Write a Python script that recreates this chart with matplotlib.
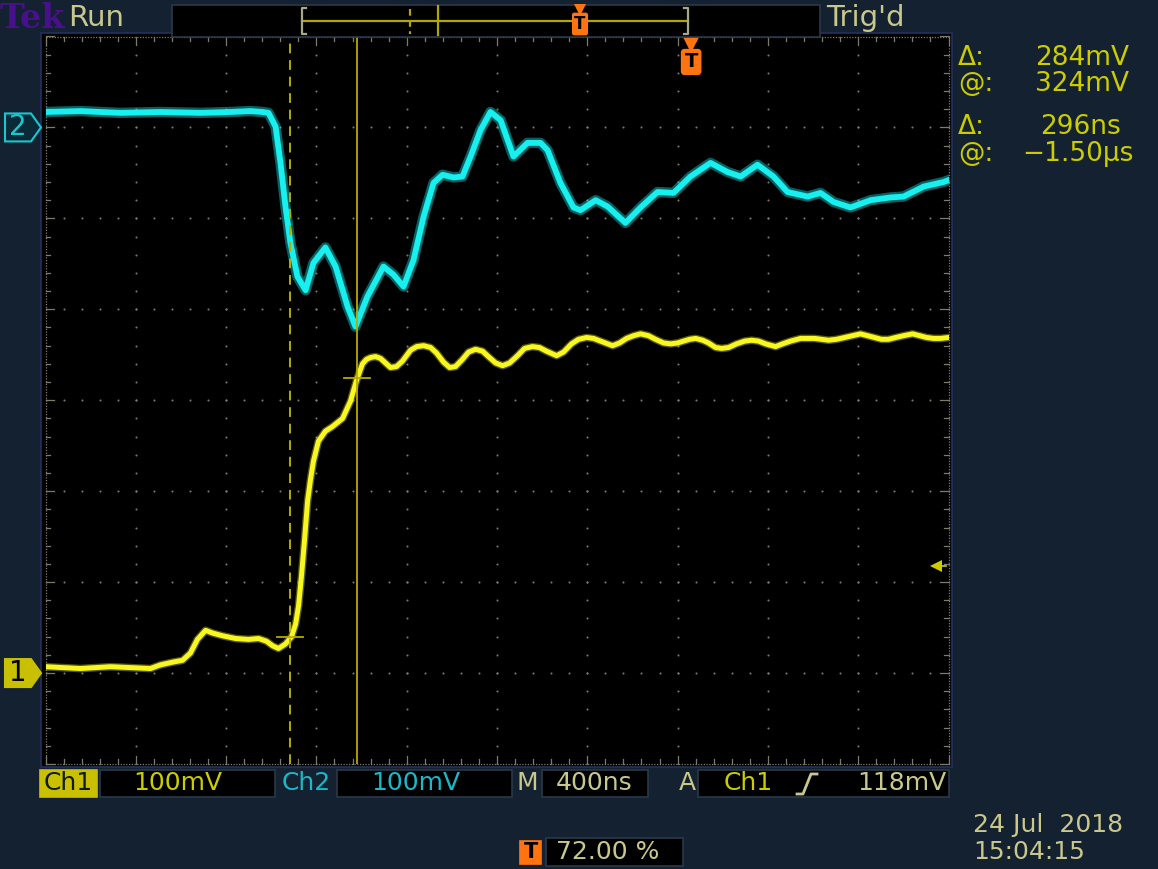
import matplotlib
matplotlib.use('Agg')
import matplotlib.pyplot as plt
import numpy as np
from matplotlib.patches import Rectangle, Polygon
from matplotlib.lines import Line2D
from matplotlib.transforms import blended_transform_factory

W, H = 1158, 869

# scope settings
ch1_scale = 100.0    # mV/div
ch2_scale = 100.0    # mV/div
ch1_offset = -3.0    # div
ch2_offset = 3.0     # div
time_div = 0.4       # us/div
trig_pos = 0.72
trig_level = 118.0   # mV
cursor_t = [-1.796, -1.50]   # us
cursor_v = [40.0, 324.0]     # mV (ch1)

# channel 1 (yellow), time in us, voltage in mV
ch1_t = [-2.880, -2.725, -2.592, -2.415, -2.371, -2.317, -2.273, -2.238, -2.207, -2.171,
         -2.140, -2.096, -2.038, -1.981, -1.936, -1.901, -1.874, -1.848, -1.817, -1.790,
         -1.772, -1.759, -1.746, -1.733, -1.719, -1.706, -1.693, -1.671, -1.640, -1.609,
         -1.564, -1.529, -1.502, -1.476, -1.458, -1.440, -1.418, -1.396, -1.374, -1.352,
         -1.325, -1.299, -1.263, -1.236, -1.205, -1.174, -1.148, -1.117, -1.090, -1.064,
         -1.033, -1.006, -0.975, -0.944, -0.918, -0.886, -0.855, -0.824, -0.789, -0.758,
         -0.723, -0.692, -0.661, -0.616, -0.585, -0.550, -0.519, -0.483, -0.452, -0.421,
         -0.368, -0.337, -0.306, -0.275, -0.244, -0.209, -0.178, -0.142, -0.111, -0.080,
         -0.054, -0.027, 0.000, 0.031, 0.057, 0.088, 0.115, 0.146, 0.181, 0.217,
         0.248, 0.279, 0.310, 0.354, 0.385, 0.420, 0.465, 0.496, 0.527, 0.558,
         0.589, 0.624, 0.660, 0.695, 0.730, 0.761, 0.792, 0.823, 0.854, 0.886,
         0.921, 0.961, 0.992, 1.023, 1.054, 1.085, 1.120]
ch1_mv = [7, 5, 7, 5, 9, 12, 14, 22, 37, 47,
          44, 41, 38, 37, 38, 35, 30, 27, 32, 40,
          54, 74, 107, 145, 189, 213, 233, 255, 266, 271,
          280, 299, 322, 340, 345, 347, 348, 346, 341, 336,
          337, 343, 355, 359, 360, 358, 352, 342, 336, 337,
          345, 353, 356, 354, 348, 341, 338, 341, 349, 357,
          359, 358, 354, 349, 353, 362, 367, 369, 368, 365,
          360, 363, 368, 371, 373, 371, 367, 363, 362, 363,
          365, 367, 368, 366, 363, 358, 357, 358, 362, 365,
          366, 365, 362, 359, 362, 365, 368, 368, 368, 367,
          366, 367, 369, 371, 373, 371, 369, 367, 367, 369,
          371, 373, 371, 369, 368, 368, 369]

# channel 2 (cyan)
ch2_t = [-2.880, -2.725, -2.548, -2.371, -2.193, -2.060, -1.972, -1.919, -1.892, -1.861,
         -1.839, -1.817, -1.795, -1.764, -1.728, -1.693, -1.640, -1.595, -1.542, -1.507,
         -1.454, -1.383, -1.338, -1.294, -1.250, -1.205, -1.161, -1.121, -1.073, -1.033,
         -0.997, -0.953, -0.909, -0.864, -0.807, -0.745, -0.687, -0.656, -0.599, -0.541,
         -0.510, -0.443, -0.390, -0.311, -0.244, -0.169, -0.098, -0.023, 0.066, 0.141,
         0.199, 0.274, 0.345, 0.407, 0.496, 0.553, 0.611, 0.686, 0.775, 0.863,
         0.921, 1.010, 1.098, 1.120]
ch2_mv = [17, 18, 16, 17, 16, 17, 18, 17, 16, 1,
          -39, -87, -127, -164, -179, -149, -132, -153, -197, -219,
          -186, -153, -162, -175, -146, -98, -61, -52, -55, -54,
          -32, -3, 17, 8, -32, -17, -17, -25, -61, -88,
          -91, -80, -87, -105, -88, -71, -72, -54, -39, -49,
          -54, -41, -54, -71, -76, -72, -82, -88, -80, -77,
          -76, -65, -60, -58]

BG = '#142131'
KHAKI = '#c8c88c'
YEL = '#cccc00'
CYAN_TXT = '#1ab8c8'
ORANGE = '#ff7410'
CUR = '#b8aa00'
GRID = '#7c7c6c'


def ftext(x, y, s, color, size=18, ha='left', **kw):
    fig.text(x / W, 1 - y / H, s, color=color, fontsize=size, ha=ha, va='center', **kw)


def fbox(x0, y0, x1, y1, face, edge=None, z=1):
    fig.patches.append(Rectangle((x0 / W, 1 - y1 / H), (x1 - x0) / W, (y1 - y0) / H,
                                 transform=fig.transFigure, facecolor=face,
                                 edgecolor=edge or face, lw=1.2, zorder=z))


def fline(xs, ys, color, lw=1.5, **kw):
    fig.lines.append(Line2D([x / W for x in xs], [1 - y / H for y in ys],
                            transform=fig.transFigure, color=color, lw=lw, **kw))


fig = plt.figure(figsize=(W / 100, H / 100), dpi=100, facecolor=BG)

# graticule area
gl, gr, gt, gb = 45.5, 948.5, 36.5, 764.0
fbox(41, 33, 952, 767, 'black', edge='#26305a', z=-2)
ax = fig.add_axes([gl / W, 1 - gb / H, (gr - gl) / W, (gb - gt) / H])
ax.axis('off')
t0 = -trig_pos * 10 * time_div
t1 = t0 + 10 * time_div
ax.set_xlim(t0, t1)
ax.set_ylim(-4, 4)

# dotted grid
ydots = np.arange(-4, 4.001, 0.2)
xdots = t0 + np.arange(0, 51) * time_div / 5
for k in range(1, 10):
    ax.scatter(np.full(ydots.size, t0 + k * time_div), ydots, s=2.2, color=GRID, lw=0, zorder=1)
for j in range(-3, 4):
    ax.scatter(xdots, np.full(xdots.size, j), s=2.2, color=GRID, lw=0, zorder=1)

# border with ticks
bw = dict(color=GRID, lw=0.9, ls=(0, (1, 1.2)), clip_on=False, zorder=2)
ax.plot([t0, t1], [4, 4], **bw)
ax.plot([t0, t1], [-4, -4], **bw)
ax.plot([t0, t0], [-4, 4], **bw)
ax.plot([t1, t1], [-4, 4], **bw)
for i, xx in enumerate(xdots):
    ln = 0.09 if i % 5 == 0 else 0.05
    ax.plot([xx, xx], [4, 4 - ln], color=GRID, lw=0.9, clip_on=False, zorder=2)
    ax.plot([xx, xx], [-4, -4 + ln], color=GRID, lw=0.9, clip_on=False, zorder=2)
for i, yy in enumerate(ydots):
    ln = 0.09 if i % 5 == 0 else 0.05
    ax.plot([t0, t0 + ln * time_div], [yy, yy], color=GRID, lw=0.9, clip_on=False, zorder=2)
    ax.plot([t1, t1 - ln * time_div], [yy, yy], color=GRID, lw=0.9, clip_on=False, zorder=2)

# traces
y1 = np.array(ch1_mv) / ch1_scale + ch1_offset
y2 = np.array(ch2_mv) / ch2_scale + ch2_offset
ax.plot(ch2_t, y2, color='#18f0f0', lw=7.5, alpha=0.4, zorder=3, solid_joinstyle='round')
ax.plot(ch2_t, y2, color='#18f0f0', lw=4.2, zorder=4, solid_joinstyle='round')
ax.plot(ch1_t, y1, color='#f8f820', lw=5.5, alpha=0.35, zorder=3, solid_joinstyle='round')
ax.plot(ch1_t, y1, color='#f8f820', lw=3.6, zorder=5, solid_joinstyle='round')

# cursors
ax.axvline(cursor_t[0], color=CUR, lw=1.4, ls=(0, (5, 3.5)), zorder=6)
ax.axvline(cursor_t[1], color=CUR, lw=1.3, zorder=6)
for ct, cv in zip(cursor_t, cursor_v):
    cy = cv / ch1_scale + ch1_offset
    ax.plot([ct - 0.058, ct + 0.058], [cy, cy], color=CUR, lw=1.3, zorder=6)

# trigger level arrow
ty = trig_level / ch1_scale + ch1_offset
ax.plot([t1 - 0.05, t1 - 0.012], [ty, ty], color=YEL, lw=1.2, zorder=6)
ax.plot(t1 - 0.055, ty, marker='<', color=YEL, ms=8, mew=0, zorder=6)

# trigger position marker
bt = blended_transform_factory(ax.transData, ax.transAxes)
ax.plot(0 - 0.02, 0.988, marker='v', color=ORANGE, ms=11, mew=0, transform=bt, clip_on=False, zorder=7)
ax.text(0 - 0.02, 0.965, 'T', transform=bt, color='black', fontsize=14, fontweight='bold',
        ha='center', va='center', zorder=7,
        bbox=dict(boxstyle='round,pad=0.15', fc=ORANGE, ec=ORANGE))

# channel ground markers on the left
bl = blended_transform_factory(fig.transFigure, ax.transData)
hh = 14 / 91.0
for off, face, edge, txtc, lab in [(ch2_offset, '#0b2a38', '#18c8d0', '#18c8d0', '2'),
                                   (ch1_offset, '#c8c000', '#c8c000', 'black', '1')]:
    pts = [(5 / W, off - hh), (31 / W, off - hh), (41 / W, off), (31 / W, off + hh), (5 / W, off + hh)]
    ax.add_patch(Polygon(pts, closed=True, transform=bl, facecolor=face, edgecolor=edge,
                         lw=1.5, clip_on=False, zorder=8))
    ax.text(18 / W, off, lab, transform=bl, color=txtc, fontsize=20, ha='center', va='center',
            clip_on=False, zorder=9)

# header
ftext(0, 18, 'Tek', '#48108c', size=24, family='DejaVu Serif', fontweight='bold')
ftext(68, 18, 'Run', KHAKI, size=21)
fbox(172, 5, 820, 37, 'black', edge='#2a3848')
fline([302, 688], [21, 21], '#b0a800', lw=1.6)
fline([306, 302, 302, 306], [8, 8, 34, 34], '#a8a88c', lw=1.6)
fline([684, 688, 688, 684], [8, 8, 34, 34], '#a8a88c', lw=1.6)
fline([410, 410], [9, 34], '#b0a800', lw=1.6, ls=(0, (3, 2)))
fline([438, 438], [6, 35], '#b0a800', lw=1.6)
fig.lines.append(Line2D([580 / W], [1 - 10 / H], marker='v', color=ORANGE, ms=9, mew=0,
                        transform=fig.transFigure))
ftext(580, 24, 'T', 'black', size=12, ha='center', fontweight='bold',
      bbox=dict(boxstyle='round,pad=0.1', fc=ORANGE, ec=ORANGE))
ftext(826, 18, "Trig'd", KHAKI, size=21)

# readouts
for yy, lab, val, vx in [(58, '\u0394:', '284mV', 1035), (84, '@:', '324mV', 1035),
                         (127, '\u0394:', '296ns', 1040), (154, '@:', '\u22121.50\u00b5s', 1022)]:
    ftext(958, yy, lab, YEL, size=19)
    ftext(vx, yy, val, YEL, size=19)

# bottom bar
fbox(40, 770, 97, 797, '#c8c000')
ftext(68, 783, 'Ch1', '#101820', size=18, ha='center')
fbox(100, 770, 275, 797, 'black', edge='#2a3848')
ftext(178, 783, '100mV', YEL, size=18, ha='center')
ftext(306, 783, 'Ch2', CYAN_TXT, size=18, ha='center')
fbox(337, 770, 512, 797, 'black', edge='#2a3848')
ftext(416, 783, '100mV', CYAN_TXT, size=18, ha='center')
ftext(527, 783, 'M', KHAKI, size=18, ha='center')
fbox(542, 770, 648, 797, 'black', edge='#2a3848')
ftext(594, 783, '400ns', KHAKI, size=18, ha='center')
ftext(687, 783, 'A', KHAKI, size=18, ha='center')
fbox(698, 770, 949, 797, 'black', edge='#2a3848')
ftext(748, 783, 'Ch1', YEL, size=18, ha='center')
fline([797, 803, 811, 817], [794, 794, 774, 774], KHAKI, lw=2)
ftext(946, 783, '118mV', KHAKI, size=18, ha='right')

fbox(520, 841, 541, 864, ORANGE)
ftext(530.5, 852, 'T', 'black', size=15, ha='center', fontweight='bold')
fbox(546, 838, 683, 866, 'black', edge='#2a3848')
ftext(556, 852, '72.00 %', KHAKI, size=18)

ftext(973, 825, '24 Jul  2018', KHAKI, size=18)
ftext(973, 852, '15:04:15', KHAKI, size=18)

fig.savefig('out.png', dpi=100, facecolor=BG)
